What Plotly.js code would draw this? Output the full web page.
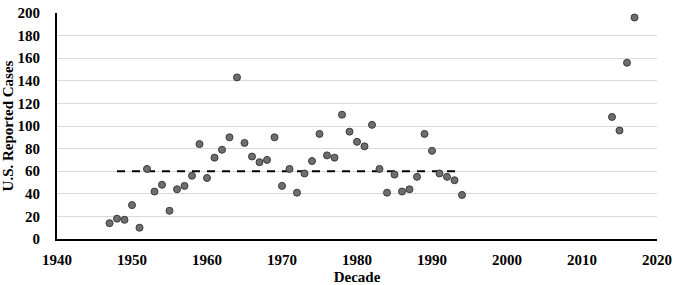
<!DOCTYPE html>
<html>
<head>
<meta charset="utf-8">
<script src="https://cdn.plot.ly/plotly-3.0.1.min.js"></script>
<style>html,body{margin:0;padding:0;background:#fff;}#chart{width:674px;height:285px;}</style>
</head>
<body>
<div id="chart"></div>
<script>
const years = [1947,1948,1949,1950,1951,1952,1953,1954,1955,1956,1957,1958,1959,1960,1961,1962,1963,1964,1965,1966,1967,1968,1969,1970,1971,1972,1973,1974,1975,1976,1977,1978,1979,1980,1981,1982,1983,1984,1985,1986,1987,1988,1989,1990,1991,1992,1993,1994,2014,2015,2016,2017];
const cases = [14,18,17,30,10,62,42,48,25,44,47,56,84,54,72,79,90,143,85,73,68,70,90,47,62,41,58,69,93,74,72,110,95,86,82,101,62,41,57,42,44,55,93,78,58,55,52,39,108,96,156,196];
const avgX = [1948,1994];
const avgY = [60,60];
const xTicks = [1940,1950,1960,1970,1980,1990,2000,2010,2020];
const yTicks = [0,20,40,60,80,100,120,140,160,180,200];

const font = {family:'"Liberation Serif","Times New Roman",serif', color:'#000', size:15};

const traces = [
  {x:avgX, y:avgY, type:'scatter', mode:'lines', line:{color:'#000', width:2, dash:'8px,7px'}, hoverinfo:'skip', showlegend:false},
  {x:years, y:cases, type:'scatter', mode:'markers', marker:{size:7, color:'#6e6e6e', line:{color:'#3a3a3a', width:1}}, showlegend:false}
];

const layout = {
  width:674, height:285,
  margin:{l:57, r:17, t:13, b:46},
  paper_bgcolor:'#fff', plot_bgcolor:'#fff',
  font:font,
  showlegend:false,
  xaxis:{
    range:[1940,2020], tickvals:xTicks, ticktext:xTicks.map(String),
    showgrid:false, zeroline:false,
    showline:true, linecolor:'#000', linewidth:2,
    ticks:'', ticklabelstandoff:6, ticklabeloverflow:'allow',
    tickfont:{family:font.family, size:15, color:'#000', weight:'bold'},
    title:{text:'Decade', font:{family:font.family, size:15, color:'#000', weight:'bold'}, standoff:6},
    automargin:false, fixedrange:true
  },
  yaxis:{
    range:[0,200], tickvals:yTicks, ticktext:yTicks.map(String),
    showgrid:true, gridcolor:'#d9d9d9', gridwidth:1,
    zeroline:false,
    showline:true, linecolor:'#000', linewidth:2,
    ticks:'', ticklabelstandoff:12, ticklabeloverflow:'allow',
    tickfont:{family:font.family, size:15, color:'#000', weight:'bold'},
    title:{text:'U.S. Reported Cases', font:{family:font.family, size:15, color:'#000', weight:'bold'}, standoff:6},
    automargin:false, fixedrange:true
  }
};

Plotly.newPlot('chart', traces, layout, {displayModeBar:false, staticPlot:true});
</script>
</body>
</html>
